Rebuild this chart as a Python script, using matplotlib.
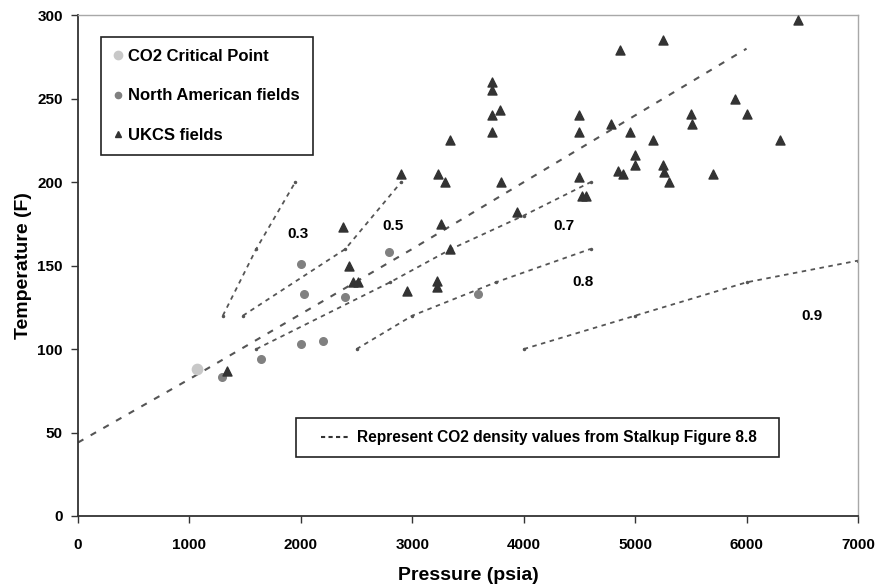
#!/usr/bin/python3

import matplotlib
matplotlib.use('Agg')
import matplotlib.pyplot as plt
from matplotlib.lines import Line2D
from matplotlib.patches import Rectangle
from matplotlib.ticker import MultipleLocator

# CO2 critical point
crit_p = [1070]
crit_t = [88]

# North American fields
na_p = [1290, 1640, 2000, 2200, 2000, 2030, 2400, 2790, 3590]
na_t = [83, 94, 103, 105, 151, 133, 131, 158, 133]

# UKCS fields
ukcs_p = [1340, 2380, 2430, 2470, 2510, 2900, 2950, 3220, 3220, 3230,
          3260, 3290, 3340, 3340, 3720, 3720, 3790, 3720, 3720, 3800,
          3940, 4500, 4500, 4500, 4520, 4560, 4780, 4860, 4850, 4890,
          4950, 5000, 5000, 5160, 5250, 5250, 5260, 5300, 5500, 5510,
          5700, 5900, 6000, 6300, 6460]
ukcs_t = [87, 173, 150, 140, 140, 205, 135, 141, 137, 205,
          175, 200, 160, 225, 260, 255, 243, 240, 230, 200,
          182, 240, 230, 203, 192, 192, 235, 279, 207, 205,
          230, 216, 210, 225, 285, 210, 206, 200, 241, 235,
          205, 250, 241, 225, 297]

# CO2 density lines (Stalkup Figure 8.8)
dens_a_p = [1300, 1600, 1950]
dens_a_t = [120, 160, 200]
dens_b_p = [1480, 2400, 2900]
dens_b_t = [120, 160, 200]
dens_c_p = [0, 1000, 2000, 3000, 4000, 5000, 6000]
dens_c_t = [44, 82, 121, 160, 200, 240, 280]
dens_d_p = [1600, 2800, 3350, 4000, 4600]
dens_d_t = [100, 140, 160, 180, 200]
dens_e_p = [2500, 3000, 3750, 4600]
dens_e_t = [100, 120, 140, 160]
dens_f_p = [4000, 5000, 6000, 7000]
dens_f_t = [100, 120, 140, 153]

# density labels
lab_text = ['0.3', '0.5', '0.7', '0.8', '0.9']
lab_p = [1977, 2830, 4360, 4530, 6584]
lab_t = [169, 174, 174, 140, 120]

note_text = 'Represent CO2 density values from Stalkup Figure 8.8'


def main():
	''' main function'''

	plt.rcParams['font.family'] = ['Liberation Sans', 'DejaVu Sans']
	plt.rcParams['font.weight'] = 'bold'

	fig = plt.figure(figsize=(8.77, 5.86), dpi=100)
	ax = fig.add_axes([0.0889, 0.1195, 0.8894, 0.8544])

	line_col = '#555555'
	short = (0, (2.5, 2.5))

	# density lines
	for p, t in [(dens_a_p, dens_a_t), (dens_b_p, dens_b_t), (dens_d_p, dens_d_t),
				 (dens_e_p, dens_e_t), (dens_f_p, dens_f_t)]:
		ax.plot(p, t, color=line_col, linestyle=short, linewidth=1.3,
				marker='.', markersize=3, zorder=2)
	ax.plot(dens_c_p, dens_c_t, color=line_col, linestyle=(0, (3, 4)), linewidth=1.5, zorder=2)

	# data points
	ax.scatter(crit_p, crit_t, s=55, color='#c8c8c8', zorder=3)
	ax.scatter(na_p, na_t, s=30, color='#808080', zorder=3)
	ax.scatter(ukcs_p, ukcs_t, s=42, marker='^', color='#333333', zorder=3)

	for txt, p, t in zip(lab_text, lab_p, lab_t):
		ax.text(p, t, txt, ha='center', va='center', fontsize=11, fontweight='bold')

	# axes ranges and ticks
	ax.set_xlim(0, 7000)
	ax.set_ylim(0, 300)
	ax.xaxis.set_major_locator(MultipleLocator(1000))
	ax.yaxis.set_major_locator(MultipleLocator(50))
	ax.tick_params(direction='out', length=5, width=1, labelsize=11, color='#333333')
	ax.tick_params(axis='x', pad=11)
	ax.tick_params(axis='y', pad=6)

	for s in ['left', 'bottom']:
		ax.spines[s].set_color('#333333')
		ax.spines[s].set_linewidth(1.3)
	for s in ['top', 'right']:
		ax.spines[s].set_color('#a8a8a8')
		ax.spines[s].set_linewidth(1.0)

	ax.set_xlabel('Pressure (psia)', fontsize=14, fontweight='bold', labelpad=11)
	ax.set_ylabel('Temperature (F)', fontsize=14, fontweight='bold', labelpad=4)

	# legend for the points
	handles = [Line2D([], [], linestyle='none', marker='o', markersize=6, color='#c8c8c8'),
			   Line2D([], [], linestyle='none', marker='o', markersize=4.5, color='#808080'),
			   Line2D([], [], linestyle='none', marker='^', markersize=5, color='#333333')]
	labels = ['CO2 Critical Point', 'North American fields', 'UKCS fields']
	leg = ax.legend(handles, labels, loc='upper left', bbox_to_anchor=(0.0295, 0.957),
					frameon=True, fancybox=False, edgecolor='#222222', framealpha=1,
					prop={'size': 12, 'weight': 'bold'}, handlelength=0.6,
					handletextpad=0.3, labelspacing=1.45, borderpad=0.75, borderaxespad=0)
	leg.get_frame().set_linewidth(1.2)

	# note box for the density lines
	ax.add_patch(Rectangle((0.2795, 0.1178), 0.6192, 0.0779, transform=ax.transAxes,
						   facecolor='white', edgecolor='#222222', linewidth=1.2, zorder=4))
	ax.plot([0.3115, 0.3487], [0.1568, 0.1568], transform=ax.transAxes, color='#333333',
			linestyle=(0, (2, 1.6)), linewidth=1.5, zorder=5)
	ax.text(0.3577, 0.1568, note_text, transform=ax.transAxes, ha='left', va='center',
			fontsize=11.2, fontweight='bold', zorder=5)

	plt.savefig('out.png', dpi=100)
	plt.close()


if __name__ == '__main__':
	main()
